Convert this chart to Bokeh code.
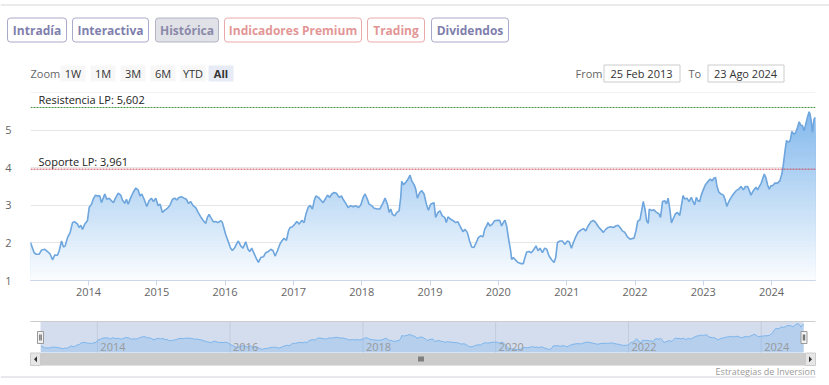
import calendar
from datetime import datetime
import numpy as np
from bokeh.plotting import figure
from bokeh.models import Range1d, FixedTicker, DatetimeTickFormatter, Span, Label
from bokeh.layouts import column
from bokeh.embed import file_html
from bokeh.resources import INLINE
from bokeh.core.properties import value

# ---------------- data ----------------
years = [
    2013.151, 2013.204, 2013.229, 2013.278, 2013.312, 2013.361, 2013.400, 2013.439, 2013.473, 2013.507,
    2013.546, 2013.571, 2013.605, 2013.634, 2013.658, 2013.693, 2013.732, 2013.766, 2013.800, 2013.839,
    2013.863, 2013.888, 2013.912, 2013.946, 2013.985, 2014.010, 2014.044, 2014.073, 2014.102, 2014.132,
    2014.166, 2014.190, 2014.220, 2014.239, 2014.268, 2014.303, 2014.337, 2014.366, 2014.400, 2014.434,
    2014.473, 2014.498, 2014.532, 2014.556, 2014.581, 2014.620, 2014.654, 2014.693, 2014.727, 2014.756,
    2014.781, 2014.815, 2014.854, 2014.888, 2014.922, 2014.952, 2014.986, 2015.020, 2015.049, 2015.083,
    2015.118, 2015.157, 2015.196, 2015.230, 2015.264, 2015.293, 2015.327, 2015.362, 2015.401, 2015.435,
    2015.464, 2015.498, 2015.532, 2015.571, 2015.606, 2015.645, 2015.684, 2015.718, 2015.742, 2015.767,
    2015.791, 2015.830, 2015.864, 2015.898, 2015.938, 2015.962,
    2016.009, 2016.048, 2016.082, 2016.107, 2016.141, 2016.165, 2016.195, 2016.229, 2016.263, 2016.302,
    2016.336, 2016.361, 2016.390, 2016.424, 2016.458, 2016.488, 2016.522, 2016.561, 2016.595, 2016.634,
    2016.668, 2016.702, 2016.732, 2016.766, 2016.800, 2016.829, 2016.863, 2016.898, 2016.927, 2016.951,
    2016.985, 2017.020, 2017.049, 2017.083, 2017.122, 2017.156, 2017.181, 2017.215, 2017.244, 2017.278,
    2017.303, 2017.327, 2017.366, 2017.400, 2017.434, 2017.464, 2017.498, 2017.532, 2017.561, 2017.595,
    2017.630, 2017.669, 2017.703, 2017.727, 2017.766, 2017.800, 2017.839, 2017.874, 2017.913, 2017.952,
    2017.986, 2018.020, 2018.049, 2018.083, 2018.108, 2018.147, 2018.181, 2018.230, 2018.264, 2018.303,
    2018.342, 2018.376, 2018.401, 2018.425, 2018.449, 2018.484, 2018.513, 2018.547, 2018.571, 2018.586,
    2018.611, 2018.645, 2018.679, 2018.708, 2018.733, 2018.767, 2018.791, 2018.815, 2018.850, 2018.879,
    2018.913, 2018.947, 2018.977,
    2019.009, 2019.058, 2019.082, 2019.117, 2019.146, 2019.180, 2019.214, 2019.239, 2019.263, 2019.302,
    2019.341, 2019.375, 2019.409, 2019.449, 2019.483, 2019.512, 2019.546, 2019.580, 2019.610, 2019.644,
    2019.678, 2019.707, 2019.741, 2019.776, 2019.800, 2019.829, 2019.849, 2019.878, 2019.912, 2019.946,
    2019.985, 2020.020, 2020.049, 2020.073, 2020.098, 2020.122, 2020.156, 2020.181, 2020.195, 2020.220,
    2020.254, 2020.288, 2020.327, 2020.366, 2020.390, 2020.415, 2020.449, 2020.483, 2020.522, 2020.551,
    2020.581, 2020.610, 2020.644, 2020.678, 2020.708, 2020.742, 2020.776, 2020.815, 2020.839, 2020.864,
    2020.903, 2020.937, 2020.971, 2021.010, 2021.035, 2021.069, 2021.098, 2021.132, 2021.166, 2021.205,
    2021.245, 2021.279, 2021.313, 2021.352, 2021.391, 2021.425, 2021.464, 2021.498, 2021.537, 2021.571,
    2021.606, 2021.645, 2021.684, 2021.718, 2021.752, 2021.781, 2021.815, 2021.850, 2021.889, 2021.928,
    2021.962,
    2021.985, 2022.015, 2022.039, 2022.073, 2022.097, 2022.121, 2022.146, 2022.170, 2022.194, 2022.209,
    2022.243, 2022.277, 2022.316, 2022.350, 2022.374, 2022.403, 2022.437, 2022.461, 2022.485, 2022.510,
    2022.534, 2022.558, 2022.592, 2022.621, 2022.655, 2022.680, 2022.704, 2022.728, 2022.762, 2022.791,
    2022.825, 2022.850, 2022.874, 2022.898, 2022.922, 2022.947, 2022.971, 2022.995, 2023.029, 2023.068,
    2023.102, 2023.131, 2023.155, 2023.180, 2023.199, 2023.228, 2023.262, 2023.296, 2023.320, 2023.345,
    2023.374, 2023.408, 2023.442, 2023.481, 2023.519, 2023.553, 2023.587, 2023.617, 2023.650, 2023.675,
    2023.699, 2023.733, 2023.772, 2023.796, 2023.820, 2023.845, 2023.869, 2023.893, 2023.917, 2023.942,
    2023.966, 2023.990, 2024.015, 2024.049, 2024.087, 2024.121, 2024.150, 2024.170, 2024.194, 2024.218,
    2024.248, 2024.272, 2024.296, 2024.330, 2024.354, 2024.379, 2024.403, 2024.427, 2024.451, 2024.476,
    2024.500, 2024.524, 2024.549, 2024.563, 2024.583, 2024.597, 2024.621, 2024.642,
]
prices = [
    2.01, 1.74, 1.70, 1.70, 1.81, 1.83, 1.77, 1.70, 1.55, 1.68,
    1.67, 1.79, 2.05, 1.89, 1.92, 2.14, 2.28, 2.54, 2.56, 2.50,
    2.41, 2.47, 2.36, 2.50, 2.59, 2.94, 3.03, 3.18, 3.27, 3.25,
    3.25, 3.07, 3.21, 3.30, 3.16, 3.19, 3.12, 3.07, 3.21, 3.32,
    3.27, 3.14, 3.05, 3.16, 3.03, 3.21, 3.34, 3.46, 3.41, 3.25,
    3.30, 3.16, 2.97, 3.12, 3.19, 3.10, 3.19, 2.99, 3.03, 2.81,
    2.87, 2.92, 3.01, 3.16, 3.19, 3.14, 3.21, 3.23, 3.19, 3.16,
    3.05, 3.10, 2.99, 2.94, 2.81, 2.69, 2.59, 2.52, 2.68, 2.76,
    2.68, 2.56, 2.57, 2.54, 2.59, 2.54,
    2.23, 2.03, 1.86, 1.80, 1.87, 1.96, 2.05, 1.92, 1.86, 2.03,
    1.83, 1.77, 1.86, 1.72, 1.58, 1.48, 1.61, 1.63, 1.74, 1.77,
    1.83, 1.79, 1.65, 1.79, 1.96, 2.05, 2.12, 2.07, 2.32, 2.41,
    2.43, 2.50, 2.57, 2.50, 2.60, 2.54, 2.76, 2.94, 3.00, 2.90,
    3.12, 3.25, 3.21, 3.14, 3.07, 3.16, 3.27, 3.21, 3.30, 3.34,
    3.32, 3.21, 3.25, 3.16, 3.05, 2.94, 2.99, 2.96, 2.99, 2.94,
    3.01, 3.21, 3.30, 3.16, 3.03, 2.99, 2.92, 2.90, 2.90, 3.03,
    3.19, 3.03, 2.81, 2.90, 2.76, 2.72, 2.81, 2.85, 3.21, 3.64,
    3.55, 3.61, 3.70, 3.80, 3.65, 3.55, 3.43, 3.19, 3.34, 3.39,
    3.30, 3.03, 2.87,
    3.03, 3.07, 2.68, 2.81, 2.85, 2.72, 2.68, 2.54, 2.69, 2.63,
    2.59, 2.54, 2.56, 2.41, 2.30, 2.36, 2.28, 2.05, 1.89, 1.88,
    2.01, 2.14, 2.19, 2.16, 2.36, 2.45, 2.54, 2.45, 2.50, 2.59,
    2.60, 2.60, 2.45, 2.54, 2.60, 2.45, 2.05, 1.79, 1.56, 1.61,
    1.54, 1.48, 1.45, 1.45, 1.61, 1.76, 1.77, 1.74, 1.83, 1.92,
    1.79, 1.86, 1.74, 1.86, 1.83, 1.65, 1.56, 1.48, 1.61, 2.01,
    2.05, 2.05, 1.96, 2.05, 2.03, 1.86, 2.01, 2.16, 2.28, 2.34,
    2.38, 2.32, 2.45, 2.56, 2.60, 2.54, 2.43, 2.36, 2.28, 2.36,
    2.41, 2.43, 2.41, 2.45, 2.47, 2.41, 2.32, 2.28, 2.16, 2.10,
    2.12,
    2.12, 2.33, 2.57, 2.62, 2.86, 3.10, 2.90, 2.59, 2.52, 2.90,
    2.86, 2.88, 2.81, 2.77, 2.68, 3.10, 3.12, 3.04, 3.19, 2.90,
    2.53, 2.64, 2.77, 2.81, 2.73, 2.99, 3.26, 3.17, 3.19, 3.10,
    3.21, 3.10, 3.01, 3.21, 3.12, 3.10, 3.27, 3.39, 3.54, 3.63,
    3.70, 3.65, 3.72, 3.74, 3.52, 3.35, 3.30, 3.27, 3.15, 2.97,
    3.10, 3.21, 3.30, 3.39, 3.43, 3.50, 3.41, 3.50, 3.50, 3.39,
    3.27, 3.39, 3.48, 3.41, 3.50, 3.57, 3.70, 3.83, 3.74, 3.54,
    3.43, 3.52, 3.52, 3.59, 3.59, 3.65, 3.83, 4.05, 4.41, 4.72,
    4.68, 4.72, 4.96, 4.89, 4.94, 5.07, 5.22, 5.13, 5.12, 4.98,
    5.16, 5.34, 5.49, 5.42, 5.20, 4.94, 5.29, 5.34,
]

resist_value = 5.602
support_value = 3.961
resist_label = "Resistencia LP: 5,602"
support_label = "Soporte LP: 3,961"
x_tick_years = [2014, 2015, 2016, 2017, 2018, 2019, 2020, 2021, 2022, 2023, 2024]
nav_tick_years = [2014, 2016, 2018, 2020, 2022, 2024]
y_ticks = [1, 2, 3, 4, 5]
y_min, y_max = 1, 6
nav_min, nav_max = 1.0, 5.8
date_from = datetime(2013, 2, 25)
date_to = datetime(2024, 8, 23)
from_text = "25 Feb 2013"
to_text = "23 Ago 2024"
tabs = ["Intradía", "Interactiva", "Histórica", "Indicadores Premium", "Trading", "Dividendos"]
zoom_buttons = ["1W", "1M", "3M", "6M", "YTD", "All"]
credit_text = "Estrategias de Inversion"


def ms(d):
    return calendar.timegm(d.timetuple()) * 1000.0


def year_to_ms(y):
    yr = int(y)
    a, b = ms(datetime(yr, 1, 1)), ms(datetime(yr + 1, 1, 1))
    return a + (b - a) * (y - yr)


x_ms = np.array([year_to_ms(y) for y in years])
vals = np.array(prices)
tick_ms = [ms(datetime(y, 1, 1)) for y in x_tick_years]
nav_tick_ms = [ms(datetime(y, 1, 1)) for y in nav_tick_years]

W = 829
FONT = "Open Sans"


def no_align(p):
    try:
        p.frame_align = False
    except Exception:
        pass
    p.title.visible = False
    return p


# ---------------- header (page coordinates) ----------------
head = figure(width=W, height=84, x_range=Range1d(0, W), y_range=Range1d(84, 0),
              x_axis_type=None, y_axis_type=None, min_border=0,
              output_backend="svg", toolbar_location=None)
no_align(head)
head.outline_line_color = None
head.background_fill_color = "white"
head.border_fill_color = "white"

head.segment(x0=[0], y0=[4.5], x1=[W], y1=[4.5], line_color="#d6d6d6", line_width=1)

tab_left = [7, 72, 155, 224, 367, 431]
tab_right = [66, 148, 218, 361, 424, 508]
tab_fill = ["white", "white", "#e1e1e8", "white", "white", "white"]
tab_line = ["#a9a9c9", "#a9a9c9", "#b3b3c3", "#eaa9a9", "#eaa9a9", "#a9a9c9"]
tab_text = ["#7f7fad", "#7f7fad", "#8a8aa8", "#e39696", "#e39696", "#7f7fad"]
head.quad(left=tab_left, right=tab_right, top=[17.5] * 6, bottom=[41.5] * 6,
          fill_color=tab_fill, line_color=tab_line, line_width=1, border_radius=3)
head.text(x=[(a + b) / 2 for a, b in zip(tab_left, tab_right)], y=[29.5] * 6, text=tabs,
          text_align="center", text_baseline="middle", text_font=value(FONT),
          text_font_style="bold", text_font_size="12px", text_color=tab_text)

head.text(x=[30], y=[72.5], text=["Zoom"], text_align="left", text_baseline="middle",
          text_font=value(FONT), text_font_size="11px", text_color="#666666")
zb_left = [60, 90, 120, 150, 180, 208]
zb_fill = ["#f7f7f7"] * 5 + ["#e6ebf5"]
head.quad(left=zb_left, right=[v + 25 for v in zb_left], top=[65] * 6, bottom=[81] * 6,
          fill_color=zb_fill, line_color=None)
head.text(x=[v + 12.5 for v in zb_left[:5]], y=[73] * 5, text=zoom_buttons[:5],
          text_align="center", text_baseline="middle", text_font=value(FONT),
          text_font_size="11px", text_color="#333333")
head.text(x=[zb_left[5] + 12.5], y=[73], text=zoom_buttons[5:],
          text_align="center", text_baseline="middle", text_font=value(FONT),
          text_font_style="bold", text_font_size="11px", text_color="#333333")

head.text(x=[575, 688], y=[72.5, 72.5], text=["From", "To"], text_align="left",
          text_baseline="middle", text_font=value(FONT), text_font_size="11px",
          text_color="#666666")
head.quad(left=[603.5, 707.5], right=[679.5, 783.5], top=[64.5, 64.5], bottom=[81.5, 81.5],
          fill_color="white", line_color="#cccccc")
head.text(x=[641, 745], y=[72.5, 72.5], text=[from_text, to_text], text_align="center",
          text_baseline="middle", text_font=value(FONT), text_font_size="11px",
          text_color="#333333")

# ---------------- main chart ----------------
main = figure(width=W, height=216, x_axis_type="datetime",
              x_range=Range1d(ms(date_from), ms(date_to)), y_range=Range1d(y_min, y_max),
              min_border_left=30, min_border_right=14, min_border_top=8, min_border_bottom=20,
              output_backend="svg", toolbar_location=None)
no_align(main)
main.outline_line_color = None
main.background_fill_color = "white"
main.border_fill_color = "white"
main.xgrid.visible = False
main.ygrid.grid_line_color = "#e6e6e6"
main.yaxis.ticker = FixedTicker(ticks=y_ticks)
main.yaxis.axis_line_color = None
main.yaxis.major_tick_line_color = None
main.yaxis.minor_tick_line_color = None
main.yaxis.major_label_text_color = "#666666"
main.yaxis.major_label_text_font = FONT
main.yaxis.major_label_text_font_size = "11px"
main.yaxis.major_label_text_baseline = "alphabetic"
main.yaxis.major_label_standoff = 13

main.xaxis.ticker = FixedTicker(ticks=tick_ms)
main.xaxis.formatter = DatetimeTickFormatter(years="%Y", months="%Y", days="%Y", hours="%Y")
main.xaxis.axis_line_color = "#ccd6eb"
main.xaxis.major_tick_line_color = "#ccd6eb"
main.xaxis.major_tick_in = 0
main.xaxis.major_tick_out = 5
main.xaxis.minor_tick_line_color = None
main.xaxis.major_label_text_color = "#666666"
main.xaxis.major_label_text_font = FONT
main.xaxis.major_label_text_font_size = "11px"
main.xaxis.major_label_standoff = 2

main.add_layout(Span(location=y_max, dimension="width", line_color="#e6e6e6", line_width=1))

# gradient area (bands from top to bottom)
vmax = vals.max()
n_bands = 60
edges = np.linspace(y_min, vmax, n_bands + 1)
base = (124, 181, 236)
for i in reversed(range(n_bands)):
    t = ((edges[i] + edges[i + 1]) / 2 - y_min) / (vmax - y_min)
    a = 0.03 + 0.92 * t
    col = "#%02x%02x%02x" % tuple(int(round(255 - a * (255 - c))) for c in base)
    main.varea(x=x_ms, y1=np.full(len(vals), y_min), y2=np.minimum(vals, edges[i + 1]),
               fill_color=col, fill_alpha=1.0)
main.line(x=x_ms, y=vals, line_color="#6ea6dd", line_width=1.6)

main.add_layout(Span(location=resist_value, dimension="width", line_color="#3f8f3f",
                     line_width=1, line_dash="2 1"))
main.add_layout(Span(location=support_value, dimension="width", line_color="#c9404f",
                     line_width=1, line_dash="2 1"))
main.add_layout(Label(x=ms(date_from), y=resist_value, x_offset=8, y_offset=0,
                      text=resist_label, text_baseline="bottom", text_font=FONT,
                      text_font_size="11px", text_color="#222222"))
main.add_layout(Label(x=ms(date_from), y=support_value, x_offset=8, y_offset=0,
                      text=support_label, text_baseline="bottom", text_font=FONT,
                      text_font_size="11px", text_color="#222222"))

# ---------------- navigator (page coordinates + data ranges) ----------------
NAV_X0, NAV_X1 = 40.5, 803.4     # pixel extent of the navigator series
NAV_YB, NAV_YT = 352.0, 321.0    # pixel of nav_min / nav_max
TOP, BOT = 300, 385
mspp = (ms(date_to) - ms(date_from)) / (NAV_X1 - NAV_X0)
vpp = (nav_max - nav_min) / (NAV_YB - NAV_YT)
nav = figure(width=W, height=BOT - TOP, x_range=Range1d(0, W), y_range=Range1d(BOT, TOP),
             x_axis_type=None, y_axis_type=None, min_border=0,
             output_backend="svg", toolbar_location=None)
no_align(nav)
nav.extra_x_ranges = {"date": Range1d(ms(date_from) - NAV_X0 * mspp,
                                      ms(date_to) + (W - NAV_X1) * mspp)}
nav.extra_y_ranges = {"nav": Range1d(nav_min - (BOT - NAV_YB) * vpp,
                                     nav_max + (NAV_YT - TOP) * vpp)}
nav.outline_line_color = None
nav.background_fill_color = "white"
nav.border_fill_color = "white"

nav.quad(left=[40], right=[803], top=[321], bottom=[352], fill_color="#6685c2",
         fill_alpha=0.28, line_color=None)
nav.segment(x0=nav_tick_ms, y0=[321] * len(nav_tick_ms), x1=nav_tick_ms,
            y1=[352] * len(nav_tick_ms), x_range_name="date", line_color="#c4ccda", line_width=1)
nav.varea(x=x_ms, y1=np.full(len(vals), nav_min), y2=vals, x_range_name="date",
          y_range_name="nav", fill_color="#7cb5ec", fill_alpha=0.35)
nav.line(x=x_ms, y=vals, x_range_name="date", y_range_name="nav",
         line_color="#7cb5ec", line_width=1)
nav.text(x=nav_tick_ms, y=[346] * len(nav_tick_ms), text=[str(y) for y in nav_tick_years],
         x_range_name="date", x_offset=3, text_align="left", text_baseline="middle",
         text_font=value(FONT), text_font_size="11px", text_color="#999999")
nav.segment(x0=[30], y0=[321], x1=[815], y1=[321], line_color="#cccccc", line_width=1)

# handles
nav.quad(left=[37, 800.5], right=[43, 806.5], top=[331, 331], bottom=[343, 343],
         fill_color="#f2f2f2", line_color="#999999", line_width=1)
nav.segment(x0=[39.3, 40.7, 802.8, 804.2], y0=[334] * 4, x1=[39.3, 40.7, 802.8, 804.2],
            y1=[340] * 4, line_color="#333333", line_width=0.8)

# scrollbar
nav.quad(left=[30], right=[815], top=[352.5], bottom=[365], fill_color="#f2f2f2",
         line_color=None)
nav.quad(left=[40], right=[805], top=[352.5], bottom=[365], fill_color="#cccccc",
         line_color=None)
nav.quad(left=[30, 805], right=[40, 815], top=[352.5, 352.5], bottom=[365, 365],
         fill_color="#e6e6e6", line_color="#cccccc", line_width=1)
nav.patches(xs=[[36.5, 36.5, 33.5], [808.5, 808.5, 811.5]],
            ys=[[355.7, 361.7, 358.7], [355.7, 361.7, 358.7]],
            fill_color="#333333", line_color=None)
nav.segment(x0=[418.5, 420.5, 422.5], y0=[356] * 3, x1=[418.5, 420.5, 422.5], y1=[361] * 3,
            line_color="#333333", line_width=1)

nav.text(x=[815], y=[370.5], text=[credit_text], text_align="right", text_baseline="middle",
         text_font=value(FONT), text_font_size="9px", text_color="#999999")
nav.segment(x0=[0], y0=[376.5], x1=[815], y1=[376.5], line_color="#d2d2da", line_width=1)

layout = column(head, main, nav, spacing=0)
open("out.html", "w").write(file_html(layout, INLINE))
